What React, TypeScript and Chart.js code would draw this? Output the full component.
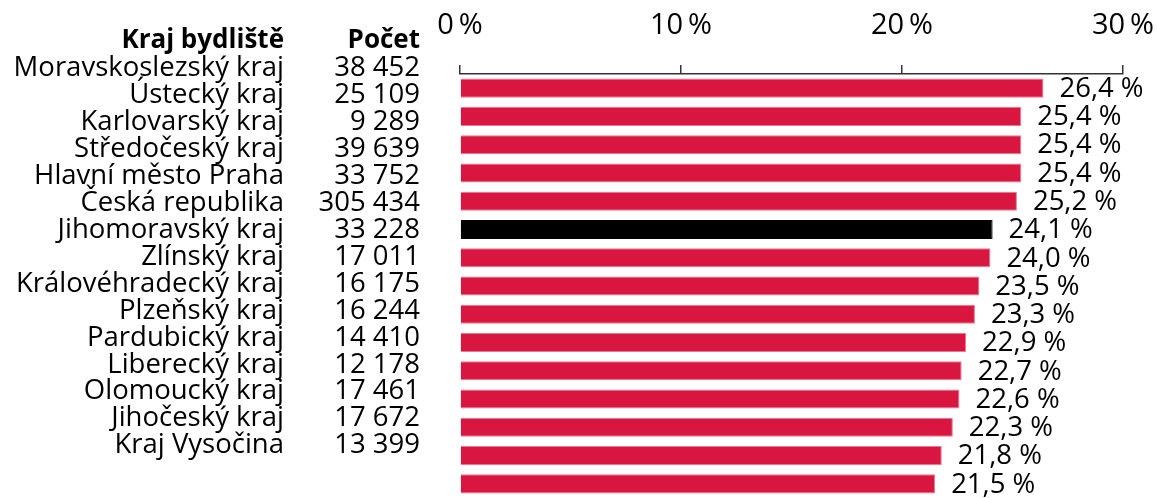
import React, { useEffect, useRef } from "react";
import { Chart, registerables } from "chart.js";

Chart.register(...registerables);

const headerRegion = "Kraj bydliště";
const headerCount = "Počet";

const regions = [
  "Moravskoslezský kraj",
  "Ústecký kraj",
  "Karlovarský kraj",
  "Středočeský kraj",
  "Hlavní město Praha",
  "Česká republika",
  "Jihomoravský kraj",
  "Zlínský kraj",
  "Královéhradecký kraj",
  "Plzeňský kraj",
  "Pardubický kraj",
  "Liberecký kraj",
  "Olomoucký kraj",
  "Jihočeský kraj",
  "Kraj Vysočina",
];

const counts = [
  38452, 25109, 9289, 39639, 33752, 305434, 33228, 17011, 16175, 16244, 14410,
  12178, 17461, 17672, 13399,
];

const shares = [
  26.4, 25.4, 25.4, 25.4, 25.2, 24.1, 24.0, 23.5, 23.3, 22.9, 22.7, 22.6, 22.3,
  21.8, 21.5,
];

const highlightIndex = 5;

const xTicks = [0, 10, 20, 30];

const FONT = "'Open Sans', 'Noto Sans', sans-serif";
const RED = "#D91640";
const RED_EDGE = "#E8788F";

const fmtCount = (n: number) =>
  String(n).replace(/\B(?=(\d{3})+(?!\d))/g, " ");
const fmtPct = (v: number) => v.toFixed(1).replace(".", ",") + " %";

const tablePlugin = {
  id: "tablePlugin",
  afterDatasetsDraw(chart: any) {
    const ctx = chart.ctx as CanvasRenderingContext2D;
    const meta = chart.getDatasetMeta(0);
    const top = chart.chartArea.top;
    ctx.save();
    ctx.fillStyle = "#000";
    ctx.textBaseline = "middle";

    ctx.font = `27.5px ${FONT}`;
    ctx.textAlign = "left";
    meta.data.forEach((bar: any, i: number) => {
      ctx.fillText(fmtPct(shares[i]), bar.x + 16, bar.y + 1);
    });

    const nameRight = 284;
    const countRight = 420;
    const rowH = 26.93;

    ctx.textAlign = "right";
    ctx.font = `bold 26px ${FONT}`;
    ctx.fillText(headerRegion, nameRight, top - 33);
    ctx.fillText(headerCount, countRight, top - 33);

    ctx.font = `27.5px ${FONT}`;
    regions.forEach((r, i) => {
      const y = top - 5.5 + i * rowH;
      ctx.fillText(r, nameRight, y);
      ctx.fillText(fmtCount(counts[i]), countRight, y);
    });
    ctx.restore();
  },
};

export default function App() {
  const ref = useRef<HTMLCanvasElement | null>(null);

  useEffect(() => {
    if (!ref.current) return;
    const chart = new Chart(ref.current, {
      type: "bar",
      data: {
        labels: regions,
        datasets: [
          {
            data: shares,
            backgroundColor: shares.map((_, i) =>
              i === highlightIndex ? "#000000" : RED
            ),
            borderColor: shares.map((_, i) =>
              i === highlightIndex ? "#000000" : RED_EDGE
            ),
            borderWidth: 1,
            barPercentage: 0.675,
            categoryPercentage: 1,
          },
        ],
      },
      options: {
        indexAxis: "y",
        animation: false,
        responsive: true,
        maintainAspectRatio: false,
        layout: { padding: { left: 460, right: 34, top: 0, bottom: 0 } },
        plugins: {
          legend: { display: false },
          tooltip: { enabled: false },
        },
        scales: {
          x: {
            position: "top",
            min: 0,
            max: 30,
            afterBuildTicks: (scale: any) => {
              scale.ticks = xTicks.map((v) => ({ value: v }));
            },
            afterFit: (scale: any) => {
              scale.height = 74;
              scale.paddingRight = 0;
              scale.paddingLeft = 0;
            },
            ticks: {
              color: "#000",
              font: { family: FONT, size: 29 },
              padding: 22,
              maxRotation: 0,
              callback: (v: any) => `${v}\u2009%`,
            },
            grid: {
              drawOnChartArea: false,
              drawTicks: true,
              tickLength: 9,
              color: "#333333",
              lineWidth: 1.5,
            },
            border: { display: true, color: "#333333", width: 1.5 },
          },
          y: {
            display: false,
          },
        },
      },
      plugins: [tablePlugin],
    });
    return () => chart.destroy();
  }, []);

  return (
    <div
      style={{
        position: "fixed",
        left: 0,
        top: 0,
        width: 1157,
        height: 498,
        background: "#fff",
      }}
    >
      <canvas ref={ref} />
    </div>
  );
}
